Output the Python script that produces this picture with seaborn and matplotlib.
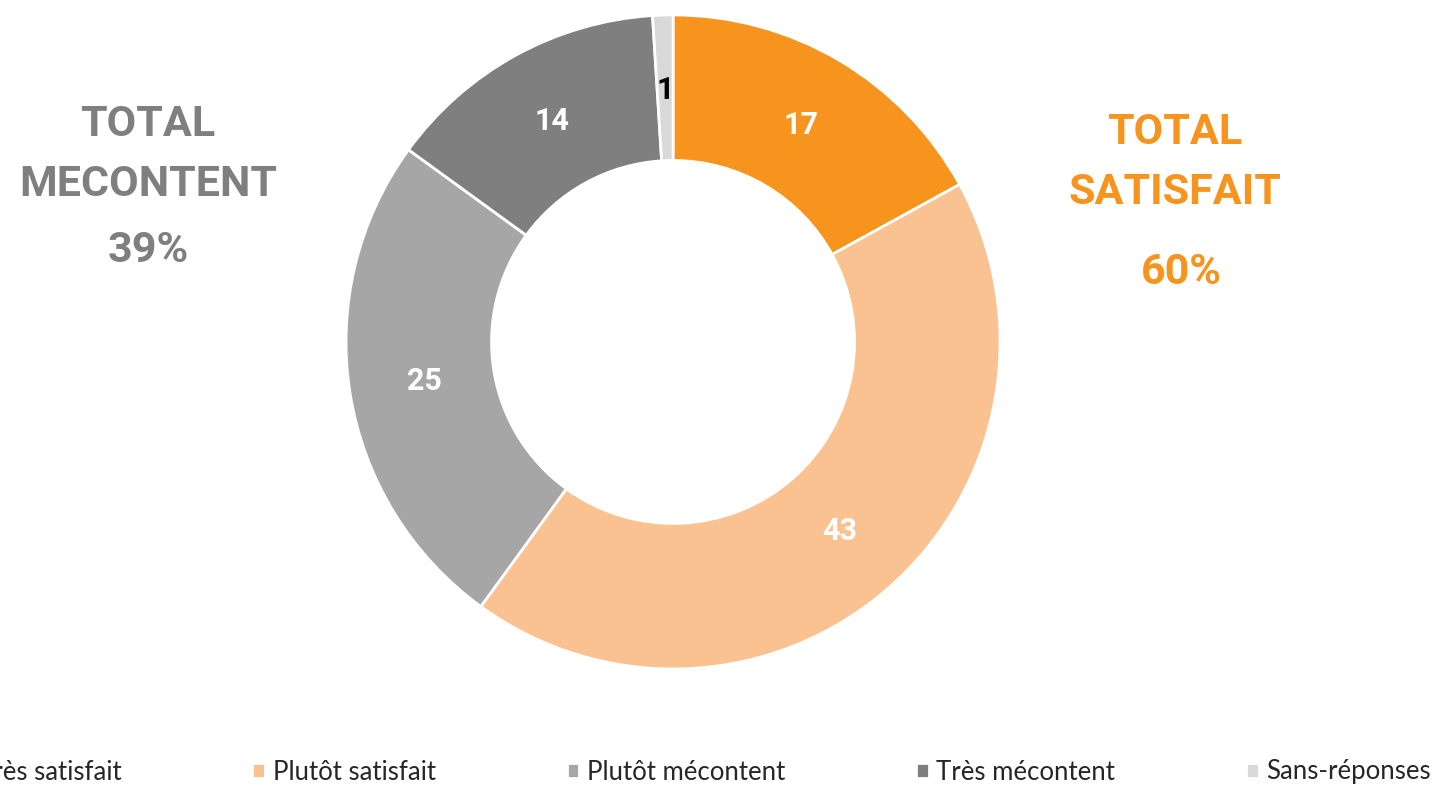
import seaborn as sns
import matplotlib.pyplot as plt

# données du graphique
categories = ['Très satisfait', 'Plutôt satisfait', 'Plutôt mécontent', 'Très mécontent', 'Sans-réponses']
values = [17, 43, 25, 14, 1]
colors = ['#F7941D', '#F9C290', '#A6A6A6', '#7F7F7F', '#D9D9D9']
label_colors = ['white', 'white', 'white', 'white', 'black']
total_mecontent = '39%'
total_satisfait = '60%'

sns.set_theme(style="white")
plt.rcParams['font.family'] = ['Lato', 'DejaVu Sans']
bold_font = ['Roboto', 'DejaVu Sans']

fig = plt.figure(figsize=(14.34, 7.86), dpi=100)
ax = fig.add_axes([0.2413, 0.1489, 0.4561, 0.8321])

palette = sns.color_palette(colors)
wedges, texts, autotexts = ax.pie(
    values, colors=palette, startangle=90, counterclock=False,
    autopct=lambda p: f"{p:.0f}", pctdistance=0.77, radius=1.0,
    wedgeprops=dict(width=0.445, edgecolor='white', linewidth=2),
    textprops=dict(fontsize=22, fontweight='bold', family=bold_font))
for t, c in zip(autotexts, label_colors):
    t.set_color(c)
ax.set_xlim(-1, 1)
ax.set_ylim(-1, 1)
ax.set_aspect('equal')
ax.axis('off')

# textes des totaux
grey = '#7F7F7F'
orange = '#F7941D'
W, H = 1434, 786
tk = dict(ha='center', va='center', fontsize=31, fontweight='bold', family=bold_font)
fig.text(148 / W, 1 - 125 / H, 'TOTAL', color=grey, **tk)
fig.text(148 / W, 1 - 185 / H, 'MECONTENT', color=grey, **tk)
fig.text(148 / W, 1 - 250 / H, total_mecontent, color=grey, **tk)
fig.text(1175 / W, 1 - 132 / H, 'TOTAL', color=orange, **tk)
fig.text(1175 / W, 1 - 192 / H, 'SATISFAIT', color=orange, **tk)
fig.text(1181 / W, 1 - 273 / H, total_satisfait, color=orange, **tk)

fig.legend(wedges, categories, ncol=5, loc='center right',
           bbox_to_anchor=(1431 / W, 1 - 772 / H), frameon=False,
           fontsize=18.5, handlelength=0.5, handleheight=0.5,
           handletextpad=0.3, columnspacing=5.08, borderpad=0, borderaxespad=0)

fig.savefig('out.png', dpi=100)
